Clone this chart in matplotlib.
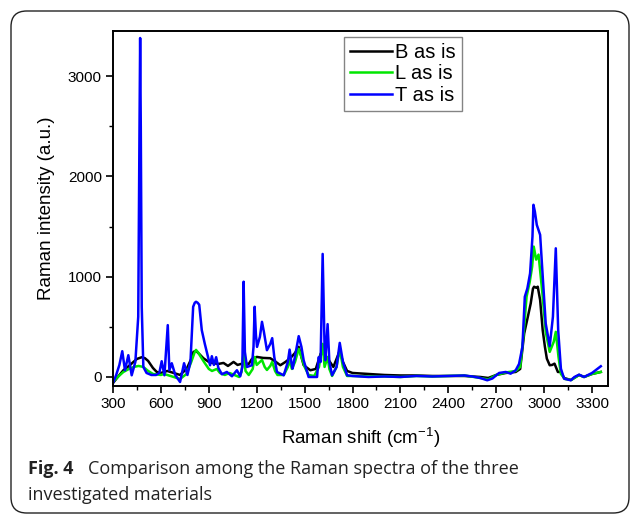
import matplotlib
matplotlib.use("Agg")
import matplotlib.pyplot as plt
from matplotlib.patches import FancyBboxPatch
from matplotlib.ticker import MultipleLocator

plt.rcParams['font.family'] = ['Liberation Sans', 'DejaVu Sans']
plt.rcParams['mathtext.fontset'] = 'custom'
plt.rcParams['mathtext.rm'] = 'Liberation Sans'

# ---- data (Raman shift in cm-1, intensity in a.u.) ----
b_shift = [300, 330, 365, 400, 428, 450, 480, 500, 520, 550, 574, 600, 640, 680, 720, 762, 790, 804, 820, 840,
           866, 900, 929, 960, 992, 1020, 1055, 1080, 1118, 1150, 1170, 1201, 1240, 1285, 1320, 1348, 1380, 1410,
           1440, 1463, 1494, 1536, 1570, 1600, 1613, 1630, 1650, 1680, 1705, 1720, 1740, 1766, 1800, 1900, 2000,
           2100, 2200, 2300, 2400, 2500, 2600, 2650, 2700, 2760, 2822, 2850, 2875, 2898, 2916, 2930, 2937, 2950,
           2960, 2975, 2991, 3005, 3017, 3035, 3050, 3065, 3086, 3105, 3125, 3167, 3219, 3250, 3300, 3355]
b_int = [-60, 0, 67, 110, 150, 180, 197, 187, 160, 90, 50, 40, 60, 40, 20, 83, 180, 250, 260, 230,
         187, 150, 137, 130, 140, 110, 150, 120, 137, 130, 180, 200, 190, 187, 150, 117, 150, 187,
         240, 300, 117, 67, 80, 230, 260, 180, 170, 100, 200, 260, 150, 60, 40, 30, 20,
         15, 15, 10, 10, 10, 0, -10, 20, 40, 50, 80, 433, 600, 733, 880, 900, 890,
         900, 767, 467, 300, 183, 117, 120, 133, 50, 50, -10, -30, 20, 0, 30, 50]

l_shift = [300, 330, 365, 400, 430, 460, 490, 520, 550, 600, 620, 640, 660, 700, 720, 760, 790, 810, 820, 835,
           850, 870, 900, 920, 950, 970, 1000, 1030, 1060, 1090, 1105, 1118, 1130, 1150, 1175, 1187, 1200, 1220,
           1233, 1250, 1264, 1285, 1297, 1315, 1330, 1370, 1395, 1406, 1420, 1440, 1463, 1480, 1500, 1525, 1560,
           1590, 1613, 1625, 1644, 1655, 1672, 1700, 1720, 1740, 1766, 1800, 1900, 2000, 2100, 2200, 2300, 2400,
           2500, 2600, 2650, 2700, 2760, 2822, 2850, 2870, 2890, 2910, 2925, 2935, 2950, 2965, 2990, 3010, 3035,
           3060, 3073, 3090, 3105, 3130, 3170, 3219, 3250, 3300, 3355]
l_int = [-50, 0, 50, 80, 100, 110, 100, 60, 30, 20, 30, 20, 10, -10, -20, 30, 150, 240, 270, 240,
         200, 150, 80, 60, 80, 40, 20, 40, 20, 0, 50, 250, 60, 20, 80, 200, 120, 150,
         170, 100, 70, 110, 150, 60, 20, 20, 100, 170, 80, 150, 280, 200, 100, 20, 10,
         100, 330, 100, 200, 80, 10, 100, 280, 100, 10, 10, 5, 5, 0, 10, 5, 10,
         15, -10, -25, 20, 45, 60, 100, 400, 800, 950, 1100, 1300, 1170, 1220, 820, 450, 250,
         350, 450, 200, 30, -20, -30, 20, 0, 30, 50]

t_shift = [300, 320, 340, 358, 375, 396, 417, 440, 458, 466, 470, 474, 480, 490, 510, 540, 570, 590, 605, 622,
           643, 653, 668, 690, 720, 745, 766, 785, 802, 812, 820, 830, 840, 856, 875, 895, 908, 919, 932, 946,
           960, 982, 1013, 1045, 1076, 1097, 1110, 1118, 1126, 1139, 1170, 1180, 1187, 1195, 1202, 1220, 1233,
           1245, 1264, 1285, 1297, 1310, 1327, 1369, 1395, 1406, 1418, 1425, 1445, 1463, 1480, 1494, 1525, 1578,
           1588, 1600, 1613, 1625, 1630, 1644, 1655, 1672, 1700, 1720, 1740, 1766, 1800, 1900, 2000, 2100, 2200,
           2300, 2400, 2500, 2550, 2600, 2644, 2676, 2718, 2760, 2790, 2822, 2843, 2864, 2879, 2895, 2912, 2927,
           2933, 2942, 2954, 2975, 2990, 3010, 3035, 3055, 3073, 3088, 3105, 3125, 3167, 3190, 3219, 3250, 3300,
           3355]
t_int = [-60, 20, 120, 257, 67, 217, 17, 150, 600, 2500, 3380, 2500, 700, 100, 40, 20, 20, 40, 157, 17,
         517, 67, 137, 20, -50, 137, 20, 150, 700, 740, 750, 740, 720, 467, 330, 200, 117, 207, 120, 197,
         90, 27, 50, 7, 67, 7, 100, 950, 250, 100, 117, 300, 700, 420, 300, 400, 550,
         450, 267, 330, 387, 200, 50, 17, 150, 273, 140, 83, 250, 407, 300, 167, 0, 0,
         197, 150, 1227, 300, 167, 527, 150, 17, 100, 340, 150, 17, 10, 0, 5, 0, 10,
         5, 10, 15, 5, -10, -33, -15, 40, 50, 33, 67, 130, 300, 800, 883, 1033, 1400,
         1717, 1650, 1517, 1417, 1033, 533, 307, 600, 1283, 467, 83, -17, -33, 0, 23, 0, 40,
         107]

labels = ['B as is', 'L as is', 'T as is']
colors = ['#000000', '#00e600', '#0000ff']
x_ticks = list(range(300, 3301, 300))
y_ticks = [0, 1000, 2000, 3000]

W, H = 630, 518
fig = plt.figure(figsize=(W / 100, H / 100), dpi=100)

# rounded frame
frame = FancyBboxPatch((11 / W, (H - 513) / H), (629 - 11) / W, (513 - 11) / H,
                       boxstyle="round,pad=0,rounding_size=0.025", transform=fig.transFigure,
                       facecolor='none', edgecolor='#222222', linewidth=1.0, mutation_aspect=W / H)
fig.patches.append(frame)

ax = fig.add_axes([113 / W, 1 - 386 / H, (608 - 113) / W, (386 - 31) / H])
for xs, ys, lab, c in zip([b_shift, l_shift, t_shift], [b_int, l_int, t_int], labels, colors):
    ax.plot(xs, ys, color=c, lw=1.8, label=lab, solid_joinstyle='round')

ax.set_xlim(300, 3400)
ax.set_ylim(-90, 3450)
ax.set_xticks(x_ticks)
ax.set_yticks(y_ticks)
ax.xaxis.set_minor_locator(MultipleLocator(150))
ax.yaxis.set_minor_locator(MultipleLocator(500))
ax.tick_params(which='major', direction='out', length=5, width=1.2, labelsize=11, pad=3)
ax.tick_params(which='minor', direction='out', length=3, width=1.0)
for s in ax.spines.values():
    s.set_linewidth(1.4)

ax.set_xlabel(r'Raman shift (cm$^{\mathregular{-1}}$)', fontsize=13.5, labelpad=10)
ax.set_ylabel('Raman intensity (a.u.)', fontsize=13.5, labelpad=9)

leg = ax.legend(loc='upper left', bbox_to_anchor=((344 - 113) / (608 - 113), (386 - 37) / (386 - 31)),
                borderaxespad=0, fontsize=14.5, handlelength=2.1, handletextpad=0.15,
                labelspacing=0.12, borderpad=0.3, fancybox=False, frameon=True)
leg.get_frame().set_edgecolor('#666666')
leg.get_frame().set_linewidth(1.0)

cap_font = ['Open Sans', 'DejaVu Sans']
fig.text(28 / W, 1 - 469 / H, 'Fig. 4', fontsize=13, fontweight='bold', family=cap_font,
         va='center', ha='left', color='#222222')
fig.text(88 / W, 1 - 469 / H, 'Comparison among the Raman spectra of the three', fontsize=13,
         family=cap_font, va='center', ha='left', color='#222222')
fig.text(28 / W, 1 - 495 / H, 'investigated materials', fontsize=13,
         family=cap_font, va='center', ha='left', color='#222222')

fig.savefig('out.png', dpi=100)
